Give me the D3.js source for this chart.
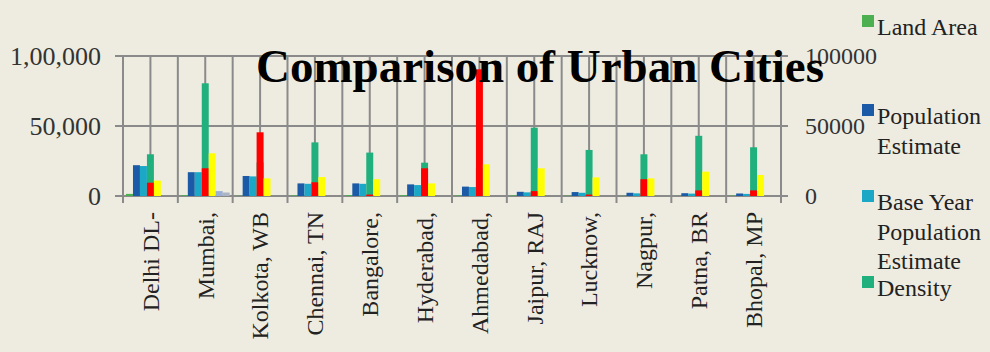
<!DOCTYPE html>
<head>
<title>Comparison of Urban Cities</title>
<script src="https://d3js.org/d3.v7.min.js"></script>
</head>

<style>
body { margin: 0; background: #eeece1; }
svg text { font-family: "Liberation Serif", "Times New Roman", serif; }
</style>

<body>
 <svg class="chart"></svg>
</body>

<script>

// data
var categories = ["Delhi DL-", "Mumbai,", "Kolkota, WB", "Chennai, TN", "Bangalore,", "Hyderabad,",
                  "Ahmedabad,", "Jaipur, RAJ", "Lucknow,", "Nagpur,", "Patna, BR", "Bhopal, MP"];
var landArea       = [1500, 600, 200, 430, 700, 650, 460, 470, 310, 220, 110, 290];
var popEstimate    = [22000, 17000, 14300, 9000, 9000, 8300, 6700, 3000, 2800, 2300, 2000, 1800];
var baseYearPop    = [21400, 17000, 14000, 8700, 8700, 7800, 6400, 2600, 2300, 1900, 1700, 1500];
var density        = [29800, 80500, 24000, 38300, 31000, 23800, 20000, 48800, 32900, 29800, 43000, 34800];
var seriesRed      = [9500, 19800, 45500, 9800, 1000, 19800, 90500, 3500, 1000, 12000, 4000, 4000];
var seriesYellow   = [11000, 30500, 12600, 13500, 12000, 9000, 22600, 19800, 13300, 12600, 17400, 15000];
var seriesLavender = [0, 3500, 0, 0, 0, 0, 0, 0, 0, 0, 0, 0];
var seriesGrey     = [0, 2500, 0, 0, 0, 0, 0, 0, 0, 0, 0, 0];
var leftTicks  = [0, 50000, 100000];
var leftTickLabels  = ["0", "50,000", "1,00,000"];
var rightTickLabels = ["0", "50000", "100000"];
var legendNames = [["Land Area"], ["Population", "Estimate"], ["Base Year", "Population", "Estimate"], ["Density"]];

// series -> colour and slot inside the category
var series = [
	{values: landArea,       color: "#4caf50", slot: 0},
	{values: popEstimate,    color: "#1b5aa6", slot: 1},
	{values: baseYearPop,    color: "#1aa8c6", slot: 2},
	{values: density,        color: "#1fb07d", slot: 3},
	{values: seriesRed,      color: "#ff0000", slot: 3},
	{values: seriesYellow,   color: "#ffff00", slot: 4},
	{values: seriesLavender, color: "#9aaed6", slot: 5},
	{values: seriesGrey,     color: "#aab4c4", slot: 6}
];
var legendColors = ["#4caf50", "#1b5aa6", "#1aa8c6", "#1fb07d"];
var legendTop = [35, 124, 210, 296];

var width = 990, height = 352;
var plot = {left: 123, right: 781, top: 56, bottom: 196};
var gridColor = "#8a8a8a";

var svg = d3.select(".chart")
	.attr("width", width)
	.attr("height", height);

svg.append("rect").attr("width", width).attr("height", height).attr("fill", "#eeece1");

var x = d3.scaleBand().domain(categories).range([plot.left, plot.right]);
var xs = d3.scaleBand().domain(d3.range(7)).range([3, x.bandwidth() - 3]);
var y = d3.scaleLinear().domain([0, 100000]).range([plot.bottom, plot.top]);
var yRight = d3.scaleLinear().domain([0, 100000]).range([plot.bottom, plot.top]);

// vertical grid: category edges and mid-points
var vx = [];
categories.forEach(function(c){ vx.push(x(c)); vx.push(x(c) + x.bandwidth() / 2); });
vx.push(plot.right);
svg.append("g").selectAll("line")
	.data(vx).enter().append("line")
	.attr("x1", function(d){ return d; }).attr("x2", function(d){ return d; })
	.attr("y1", plot.top).attr("y2", plot.bottom)
	.attr("stroke", gridColor).attr("stroke-width", 2);

// category ticks below the axis
svg.append("g").selectAll("line")
	.data(categories.map(function(c){ return x(c); }).concat([plot.right]))
	.enter().append("line")
	.attr("x1", function(d){ return d; }).attr("x2", function(d){ return d; })
	.attr("y1", plot.bottom).attr("y2", plot.bottom + 7)
	.attr("stroke", gridColor).attr("stroke-width", 2);

// horizontal grid, with outward ticks on both sides
svg.append("g").selectAll("line")
	.data(leftTicks).enter().append("line")
	.attr("x1", plot.left - 8).attr("x2", plot.right + 7)
	.attr("y1", function(d){ return y(d); }).attr("y2", function(d){ return y(d); })
	.attr("stroke", gridColor).attr("stroke-width", 2);

// bars
series.forEach(function(s){
	svg.append("g").selectAll("rect")
		.data(s.values).enter().append("rect")
		.attr("x", function(d, i){ return x(categories[i]) + xs(s.slot); })
		.attr("width", xs.bandwidth())
		.attr("y", function(d){ return y(d); })
		.attr("height", function(d){ return y(0) - y(d); })
		.attr("fill", s.color);
});

// left axis labels
svg.append("g").selectAll("text")
	.data(leftTicks).enter().append("text")
	.attr("x", plot.left - 22)
	.attr("y", function(d){ return y(d); })
	.attr("dy", "0.35em")
	.attr("text-anchor", "end")
	.style("font-size", "26px")
	.attr("fill", "#333")
	.text(function(d, i){ return leftTickLabels[i]; });

// right axis labels
svg.append("g").selectAll("text")
	.data(leftTicks).enter().append("text")
	.attr("x", plot.right + 24)
	.attr("y", function(d){ return yRight(d); })
	.attr("dy", "0.35em")
	.style("font-size", "24px")
	.attr("fill", "#333")
	.text(function(d, i){ return rightTickLabels[i]; });

// category labels
svg.append("g").selectAll("text")
	.data(categories).enter().append("text")
	.attr("transform", function(d){ return "translate(" + (x(d) + x.bandwidth() / 2) + "," + (plot.bottom + 16) + ") rotate(-90)"; })
	.attr("dy", "0.35em")
	.attr("text-anchor", "end")
	.style("font-size", "24px")
	.attr("fill", "#222")
	.text(function(d){ return d; });

// title
svg.append("text")
	.attr("x", 540)
	.attr("y", 82)
	.attr("text-anchor", "middle")
	.style("font-size", "47px")
	.style("font-weight", "bold")
	.attr("fill", "#000")
	.text("Comparison of Urban Cities");

// legend
var legend = svg.append("g");
legendNames.forEach(function(lines, i){
	legend.append("rect")
		.attr("x", 862).attr("y", legendTop[i] - 20)
		.attr("width", 12).attr("height", 12)
		.attr("fill", legendColors[i]);
	lines.forEach(function(t, j){
		legend.append("text")
			.attr("x", 877)
			.attr("y", legendTop[i] + j * 29.5)
			.style("font-size", "24px")
			.attr("fill", "#222")
			.text(t);
	});
});

</script>
